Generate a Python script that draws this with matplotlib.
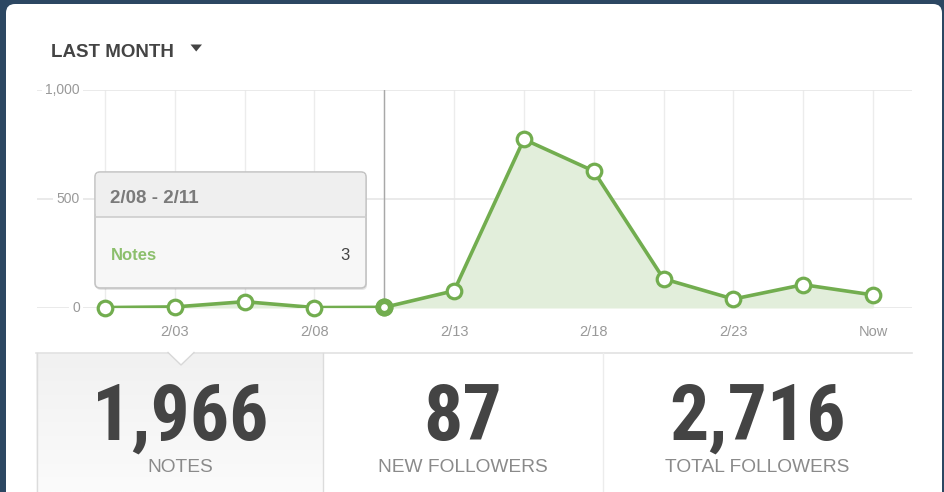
import matplotlib
matplotlib.use("Agg")
import matplotlib.pyplot as plt
from matplotlib.patches import FancyBboxPatch, Polygon, Rectangle
from matplotlib import font_manager
import numpy as np

# ---- data ----
notes = [2, 5, 29, 2, 3, 79, 774, 628, 134, 41, 107, 60]
tick_idx = [1, 3, 5, 7, 9, 11]
tick_labels = ["2/03", "2/08", "2/13", "2/18", "2/23", "Now"]
y_ticks = [0, 500, 1000]
y_tick_labels = ["0", "500", "1,000"]
hover_idx = 4
tooltip_title = "2/08 - 2/11"
tooltip_series = "Notes"
stat_values = ["1,966", "87", "2,716"]
stat_labels = ["NOTES", "NEW FOLLOWERS", "TOTAL FOLLOWERS"]
period_label = "LAST MONTH"

W, H = 945, 492
GREEN = "#72ad4f"
FILL = "#e2eedb"

plt.rcParams['font.family'] = ['Liberation Sans', 'DejaVu Sans']

# pick a condensed bold face for the big numbers if one is installed
names = {f.name for f in font_manager.fontManager.ttflist}
cond = None
for n in ["Liberation Sans Narrow", "Roboto Condensed", "DejaVu Sans Condensed", "Open Sans Condensed",
          "Noto Sans Condensed", "Arial Narrow"]:
    if n in names:
        cond = n
        break
if cond is None:
    for f in font_manager.fontManager.ttflist:
        if f.stretch in ("condensed", "semi-condensed") and f.weight in ("bold", 700):
            cond = f.name
            break
num_family = [cond, "Liberation Sans"] if cond else ["Liberation Sans"]
num_stretch = "condensed" if cond else "normal"

fig = plt.figure(figsize=(W / 100, H / 100), dpi=100, facecolor="#2c4762")

def px_axes(l, t, r, b, z):
    return fig.add_axes([l / W, (H - b) / H, (r - l) / W, (b - t) / H], zorder=z)

# background card
bg = px_axes(0, 0, W, H, 0)
bg.set_xlim(0, W); bg.set_ylim(H, 0); bg.axis("off")
bg.add_patch(FancyBboxPatch((6, 4), 936, 520, boxstyle="round,pad=0,rounding_size=9",
                            fc="white", ec="none", zorder=0.2))

# header
bg.text(51, 57, period_label, fontsize=13.5, fontweight="bold", color="#444444", va="baseline")
bg.add_patch(Polygon([(190.5, 44.5), (202, 44.5), (196.2, 51.5)], closed=True, fc="#444444", ec="none"))

# bottom stat panel
grad = np.linspace(0, 1, 100).reshape(-1, 1)
bg.imshow(grad, extent=(36, 323, 492, 353), cmap=matplotlib.colors.LinearSegmentedColormap.from_list(
    "g", ["#f1f1f1", "#fbfbfb"]), aspect="auto", zorder=0.5)
bg.set_xlim(0, W); bg.set_ylim(H, 0)
bg.plot([36, 912], [352.5, 352.5], color="#e2e2e2", lw=1.2, zorder=1)
bg.plot([36.5, 36.5], [352.5, 492], color="#dcdcdc", lw=1, zorder=1)
bg.plot([323, 323], [352.5, 492], color="#dcdcdc", lw=1, zorder=1)
bg.plot([603, 603], [352.5, 492], color="#ececec", lw=1, zorder=1)
bg.add_patch(Polygon([(168, 352), (194, 352), (181, 365)], closed=True, fc="white", ec="none", zorder=2))
bg.plot([168, 181, 194], [352.5, 365, 352.5], color="#d8d8d8", lw=1, zorder=2)

centers = [180, 463, 757]
num_size = 56 if cond else 53
for cx, v, lab in zip(centers, stat_values, stat_labels):
    bg.text(cx, 440, v, fontsize=num_size, fontweight="bold", color="#444444", ha="center", va="baseline",
            family=num_family, fontstretch=num_stretch, zorder=3)
    bg.text(cx, 472, lab, fontsize=13.8, color="#8a8a8a", ha="center", va="baseline", zorder=3)

# chart axes
L, T, R, B = 37, 90, 912, 308
x0, dx = 105, (873 - 105) / 11
ax = px_axes(L, T, R, B, 1)
ax.patch.set_alpha(0)
ax.set_xlim((L - x0) / dx, (R - x0) / dx)
ax.set_ylim(0, 1000)
for s in ax.spines.values():
    s.set_visible(False)
x = np.arange(len(notes))
for xi in x:
    ax.axvline(xi, color="#ececec", lw=1, zorder=0)
for yv in y_ticks:
    ax.axhline(yv, color="#e6e6e6", lw=1.2, zorder=0)
ax.axvline(hover_idx, color="#a8a8a8", lw=1, zorder=1)
ax.fill_between(x, notes, 0, color=FILL, zorder=2, lw=0)
ax.plot(x, notes, color=GREEN, lw=2.6, zorder=3, solid_joinstyle="round")
ax.plot(x, notes, ls="none", marker="o", ms=10.5, mfc="white", mec=GREEN, mew=2.3, zorder=4, clip_on=False)
ax.plot([x[hover_idx]], [notes[hover_idx]], ls="none", marker="o", ms=12, mfc=GREEN, mec=GREEN,
        zorder=5, clip_on=False)
ax.plot([x[hover_idx]], [notes[hover_idx]], ls="none", marker="o", ms=3.8, mfc="white", mec="white",
        zorder=6, clip_on=False)

ax.set_yticks([])
ax.set_xticks(tick_idx)
ax.set_xticklabels(tick_labels, fontsize=10.5, color="#999999")
ax.tick_params(axis="x", length=0, pad=12)
ylab_x = (80 - x0) / dx
for yv, yl in zip(y_ticks, y_tick_labels):
    ax.text(ylab_x, yv, yl, ha="right", va="center", fontsize=10, color="#999999", zorder=1.5,
            bbox=dict(boxstyle="square,pad=0.25", fc="white", ec="none"))

# tooltip overlay
ov = px_axes(0, 0, W, H, 3)
ov.set_xlim(0, W); ov.set_ylim(H, 0); ov.axis("off")
tl, tt, tr, tb = 95, 172, 366, 288
ov.add_patch(FancyBboxPatch((tl + 1, tt + 2), tr - tl, tb - tt, boxstyle="round,pad=0,rounding_size=5",
                            fc="#000000", ec="none", alpha=0.10))
ov.add_patch(FancyBboxPatch((tl, tt), tr - tl, tb - tt, boxstyle="round,pad=0,rounding_size=5",
                            fc="#f7f7f7", ec="#c4c4c4", lw=1.2))
ov.add_patch(FancyBboxPatch((tl + 0.8, tt + 0.8), tr - tl - 1.6, 44, boxstyle="round,pad=0,rounding_size=4",
                            fc="#efefef", ec="none"))
ov.add_patch(Rectangle((tl + 0.8, tt + 30), tr - tl - 1.6, 15, fc="#efefef", ec="none"))
ov.plot([tl, tr], [217, 217], color="#cdcdcd", lw=1.2)
ov.text(110, 203, tooltip_title, fontsize=13.5, fontweight="bold", color="#7a7a7a", va="baseline")
ov.text(111, 260, tooltip_series, fontsize=12, fontweight="bold", color="#8cbf6c", va="baseline")
ov.text(350, 260, str(notes[hover_idx]), fontsize=12, color="#444444", va="baseline", ha="right")

fig.savefig("out.png", dpi=100, facecolor=fig.get_facecolor())
